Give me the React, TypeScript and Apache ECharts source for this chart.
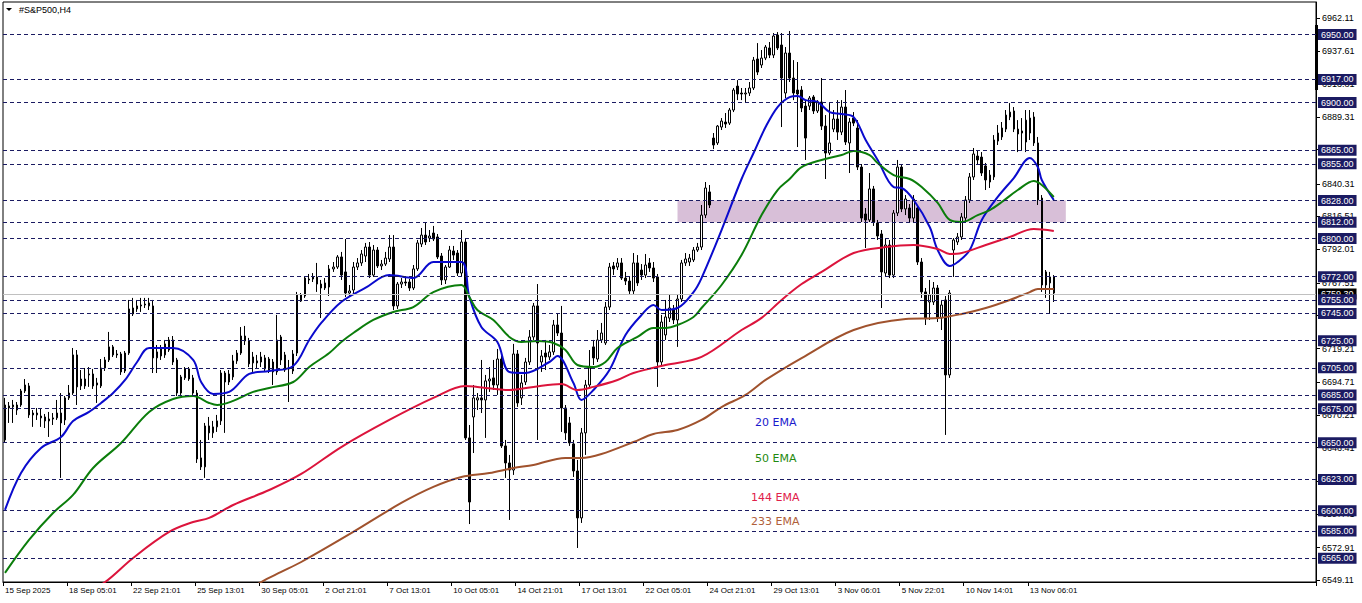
import React, { useEffect, useRef } from "react";
import * as echarts from "echarts";

const FONT = '"Liberation Sans", Arial, sans-serif';

// x-axis tick labels, one every 16 H4 bars
const timeLabels = [
  "15 Sep 2025", "18 Sep 05:01", "22 Sep 21:01", "25 Sep 13:01", "30 Sep 05:01",
  "2 Oct 21:01", "7 Oct 13:01", "10 Oct 05:01", "14 Oct 21:01", "17 Oct 13:01",
  "22 Oct 05:01", "24 Oct 21:01", "29 Oct 13:01", "3 Nov 06:01", "5 Nov 22:01",
  "10 Nov 14:01", "13 Nov 06:01",
];
const LABEL_STEP = 16;
const SLOT_COUNT = 328;

// right price scale labels
const yTicks = [
  6962.11, 6937.61, 6913.81, 6889.31, 6865.51, 6840.31, 6816.51, 6792.01, 6767.51,
  6743.71, 6719.21, 6694.71, 6670.21, 6646.41, 6621.91, 6597.41, 6572.91, 6549.11,
];
const Y_MIN = 6547.6;
const Y_MAX = 6973.9;

// horizontal levels
const levels = [
  6950, 6917, 6900, 6865, 6855, 6828, 6812, 6800, 6772, 6755, 6745, 6725, 6705,
  6685, 6675, 6650, 6623, 6600, 6585, 6565,
];
const lastPrice = 6759.3;
const zoneLow = 6812;
const zoneHigh = 6828;
const zoneFrom = 168;
const zoneTo = 265;

// candles: [open, close, low, high]
const candlesSep = [
  [6652.0, 6677.7, 6650.5, 6682.9], [6677.0, 6675.5, 6664.5, 6679.9], [6676.3, 6677.7, 6664.5, 6681.4],
  [6674.0, 6677.7, 6670.4, 6679.9], [6677.7, 6688.0, 6676.3, 6689.5], [6688.0, 6692.4, 6686.5, 6696.8],
  [6691.7, 6670.4, 6668.2, 6693.9], [6671.8, 6670.4, 6661.6, 6674.0], [6670.4, 6671.8, 6666.7, 6675.5],
  [6669.6, 6668.2, 6661.6, 6675.5], [6668.9, 6666.0, 6660.8, 6671.1], [6667.4, 6666.0, 6654.2, 6672.6],
  [6667.4, 6668.2, 6663.0, 6671.8], [6668.2, 6671.8, 6666.7, 6681.4], [6671.8, 6664.5, 6624.1, 6686.5],
  [6666.7, 6682.9, 6663.0, 6684.3], [6682.9, 6686.5, 6681.4, 6692.4], [6686.5, 6714.5, 6685.1, 6719.6],
  [6714.5, 6691.0, 6677.7, 6718.1], [6691.7, 6696.8, 6688.7, 6703.4], [6696.8, 6691.7, 6689.5, 6704.9],
  [6699.8, 6700.5, 6691.0, 6705.6], [6700.5, 6691.7, 6689.5, 6704.2], [6693.9, 6692.4, 6679.2, 6697.6],
  [6691.7, 6704.9, 6690.2, 6711.5], [6704.9, 6710.8, 6702.7, 6713.0], [6710.8, 6720.4, 6709.3, 6731.4],
  [6720.4, 6714.5, 6713.0, 6721.8], [6715.2, 6714.5, 6712.3, 6718.1], [6715.2, 6702.0, 6699.8, 6716.7],
  [6702.7, 6715.9, 6701.2, 6717.4], [6715.9, 6748.3, 6714.5, 6754.9], [6749.0, 6744.6, 6743.1, 6756.4],
  [6748.3, 6750.5, 6746.1, 6754.9], [6750.5, 6751.2, 6746.1, 6756.4], [6751.2, 6751.9, 6749.0, 6756.4],
  [6750.5, 6752.7, 6747.5, 6756.4], [6750.5, 6712.3, 6701.2, 6754.9], [6712.3, 6716.7, 6701.2, 6721.8],
  [6718.9, 6713.7, 6710.8, 6721.8], [6714.5, 6722.6, 6712.3, 6725.5], [6718.1, 6725.5, 6716.7, 6727.7],
  [6725.5, 6709.3, 6707.1, 6728.4], [6710.8, 6686.5, 6684.3, 6712.3], [6686.5, 6698.3, 6685.1, 6699.8],
  [6697.6, 6704.2, 6696.1, 6705.6], [6704.2, 6696.8, 6695.4, 6705.6], [6697.6, 6686.5, 6685.1, 6699.8],
  [6686.5, 6638.0, 6635.1, 6688.7], [6638.8, 6632.2, 6629.9, 6652.0], [6632.2, 6662.3, 6624.1, 6664.5],
  [6662.3, 6657.2, 6652.0, 6668.9], [6657.2, 6661.6, 6653.5, 6666.0], [6661.6, 6666.0, 6657.9, 6670.4],
  [6666.0, 6701.2, 6663.0, 6703.4], [6701.2, 6694.6, 6657.2, 6702.7], [6694.6, 6700.5, 6692.4, 6703.4],
  [6698.3, 6710.1, 6696.1, 6714.5], [6710.1, 6715.9, 6707.9, 6718.1], [6715.9, 6728.4, 6714.5, 6735.0],
  [6728.4, 6724.8, 6721.8, 6735.8], [6724.8, 6707.9, 6705.6, 6727.0], [6708.6, 6713.0, 6702.0, 6716.7],
  [6710.1, 6708.6, 6704.9, 6714.5], [6709.3, 6713.0, 6705.6, 6716.7], [6712.3, 6704.2, 6702.0, 6714.5],
  [6703.4, 6711.5, 6701.2, 6713.0], [6709.3, 6702.0, 6692.4, 6711.5], [6702.0, 6725.5, 6699.8, 6743.9],
  [6727.7, 6710.8, 6707.1, 6729.2], [6714.5, 6703.4, 6702.0, 6716.7], [6704.9, 6704.2, 6679.9, 6710.8],
  [6702.7, 6715.2, 6700.5, 6718.1], [6715.9, 6758.6, 6713.7, 6760.8], [6758.6, 6754.1, 6753.4, 6760.0],
  [6757.8, 6771.0, 6756.4, 6772.5], [6769.6, 6770.3, 6766.6, 6774.0], [6770.3, 6771.8, 6768.1, 6774.7],
  [6766.6, 6771.8, 6760.8, 6782.1], [6766.6, 6763.7, 6741.6, 6769.6], [6763.7, 6767.4, 6762.2, 6771.0],
  [6764.4, 6777.7, 6757.8, 6780.6], [6777.7, 6779.1, 6775.5, 6782.8], [6779.1, 6786.5, 6777.7, 6787.9],
  [6786.5, 6773.2, 6769.6, 6790.2], [6775.5, 6760.0, 6757.1, 6799.7], [6760.0, 6761.5, 6757.1, 6765.9],
  [6762.2, 6779.1, 6759.3, 6782.8],
];

const candlesOct = [
  [6779.1, 6782.1, 6776.9, 6785.7], [6782.1, 6788.7, 6779.9, 6791.6], [6787.2, 6793.8, 6782.8, 6796.8],
  [6793.8, 6773.2, 6771.0, 6797.5], [6773.2, 6791.6, 6771.8, 6795.3], [6791.6, 6779.9, 6778.4, 6793.8],
  [6779.9, 6781.3, 6776.9, 6784.3], [6781.3, 6785.7, 6779.9, 6790.2], [6785.0, 6793.8, 6782.8, 6802.6],
  [6793.8, 6750.5, 6747.5, 6802.6], [6750.5, 6766.6, 6748.3, 6768.1], [6766.6, 6768.1, 6763.7, 6771.0],
  [6768.1, 6767.4, 6765.2, 6772.5], [6768.1, 6763.7, 6761.5, 6770.3], [6763.7, 6777.7, 6762.2, 6780.6],
  [6777.7, 6796.8, 6776.2, 6799.0], [6796.0, 6802.6, 6793.8, 6807.8], [6802.6, 6797.5, 6795.3, 6812.2],
  [6800.4, 6801.9, 6797.5, 6806.3], [6804.1, 6799.7, 6798.2, 6809.3], [6801.2, 6786.5, 6785.0, 6803.4],
  [6787.2, 6769.6, 6765.9, 6789.4], [6769.6, 6779.1, 6766.6, 6780.6], [6779.1, 6791.6, 6778.4, 6794.6],
  [6790.9, 6787.9, 6784.3, 6794.6], [6789.4, 6774.7, 6772.5, 6791.6], [6774.7, 6797.5, 6772.5, 6806.3],
  [6797.5, 6653.5, 6652.0, 6800.4], [6653.5, 6606.4, 6590.2, 6663.0], [6668.9, 6682.9, 6642.4, 6692.4],
  [6681.4, 6682.9, 6674.0, 6686.5], [6682.9, 6681.4, 6671.8, 6710.8], [6681.4, 6695.4, 6653.5, 6699.8],
  [6695.4, 6696.8, 6687.3, 6705.6], [6697.6, 6692.4, 6688.7, 6710.8], [6692.4, 6711.5, 6685.1, 6718.9],
  [6711.5, 6647.6, 6646.1, 6713.7], [6647.6, 6635.1, 6624.1, 6652.0], [6635.1, 6629.9, 6593.2, 6641.0],
  [6629.9, 6715.2, 6626.3, 6722.6], [6715.2, 6679.2, 6676.3, 6718.1], [6682.9, 6693.9, 6677.7, 6699.8],
  [6694.6, 6709.3, 6692.4, 6712.3], [6709.3, 6727.7, 6707.1, 6732.8], [6727.7, 6750.5, 6725.5, 6752.7],
  [6750.5, 6723.3, 6652.0, 6766.6], [6709.3, 6713.7, 6702.0, 6718.1], [6715.9, 6713.0, 6703.4, 6725.5],
  [6713.0, 6716.7, 6710.8, 6721.8], [6716.7, 6736.5, 6714.5, 6740.2], [6736.5, 6730.6, 6728.4, 6745.3],
  [6730.6, 6675.5, 6657.9, 6750.5], [6675.5, 6657.2, 6652.0, 6677.7], [6664.5, 6649.8, 6647.6, 6668.9],
  [6649.1, 6629.2, 6624.8, 6652.0], [6629.2, 6594.7, 6572.6, 6637.3], [6594.7, 6657.2, 6591.0, 6660.8],
  [6657.2, 6692.4, 6641.0, 6696.1], [6692.4, 6704.9, 6690.2, 6718.1], [6720.4, 6712.3, 6707.1, 6725.5],
  [6711.5, 6725.5, 6709.3, 6732.8], [6725.5, 6730.6, 6723.3, 6738.0], [6723.3, 6749.7, 6721.8, 6753.4],
  [6749.7, 6779.1, 6747.5, 6782.1], [6779.9, 6777.7, 6773.2, 6782.8], [6779.1, 6782.1, 6776.9, 6785.7],
  [6782.1, 6771.0, 6769.6, 6785.7], [6771.0, 6768.8, 6765.9, 6775.5], [6768.8, 6761.5, 6759.3, 6771.8],
  [6761.5, 6782.1, 6759.3, 6789.4], [6782.1, 6767.4, 6765.2, 6787.9], [6776.9, 6773.2, 6769.6, 6781.3],
  [6773.2, 6780.6, 6771.0, 6788.7], [6782.1, 6778.4, 6775.5, 6785.7], [6778.4, 6771.0, 6768.1, 6782.8],
  [6771.8, 6709.3, 6691.0, 6774.0], [6709.3, 6738.7, 6707.1, 6743.9], [6729.2, 6742.4, 6725.5, 6754.9],
  [6741.6, 6749.0, 6738.7, 6758.6], [6747.5, 6740.2, 6737.2, 6751.2], [6740.2, 6755.6, 6720.4, 6758.6],
  [6755.6, 6782.1, 6753.4, 6784.3], [6782.1, 6785.0, 6779.9, 6789.4], [6782.8, 6785.7, 6779.9, 6788.7],
  [6784.3, 6791.6, 6782.8, 6793.8], [6791.6, 6793.8, 6790.2, 6796.8], [6793.8, 6817.3, 6791.6, 6824.7],
  [6817.3, 6837.2, 6815.1, 6841.6],
];

const candlesNov = [
  [6834.3, 6824.7, 6822.5, 6839.4], [6873.9, 6868.8, 6865.8, 6877.6], [6870.3, 6882.7, 6868.8, 6883.5],
  [6882.0, 6886.4, 6879.8, 6888.6], [6885.7, 6884.2, 6881.3, 6892.3], [6884.9, 6894.5, 6883.5, 6896.0],
  [6894.5, 6909.2, 6893.0, 6910.7], [6912.1, 6906.3, 6901.8, 6916.5], [6907.0, 6906.3, 6901.8, 6910.7],
  [6906.3, 6907.0, 6900.4, 6910.7], [6907.0, 6910.7, 6904.8, 6915.1], [6910.7, 6931.2, 6909.2, 6933.5],
  [6932.0, 6922.4, 6920.2, 6943.7], [6927.6, 6932.7, 6925.4, 6938.6], [6932.7, 6940.8, 6931.2, 6942.3],
  [6940.1, 6934.9, 6932.7, 6944.5], [6934.9, 6948.9, 6932.7, 6951.1], [6949.6, 6940.1, 6938.6, 6951.8],
  [6942.3, 6918.0, 6882.0, 6951.1], [6907.0, 6936.4, 6903.3, 6940.8], [6936.4, 6918.0, 6915.1, 6952.6],
  [6918.0, 6907.0, 6901.8, 6931.2], [6909.2, 6906.3, 6867.3, 6929.8], [6909.2, 6896.0, 6893.0, 6912.1],
  [6897.4, 6873.9, 6857.8, 6901.8], [6897.4, 6903.3, 6894.5, 6904.8], [6904.1, 6893.8, 6891.6, 6905.5],
  [6893.8, 6900.4, 6892.3, 6901.8], [6900.4, 6882.7, 6879.8, 6918.0], [6882.7, 6862.9, 6843.8, 6890.8],
  [6862.9, 6870.3, 6861.4, 6899.6], [6880.5, 6887.9, 6878.3, 6894.5], [6887.9, 6878.3, 6872.5, 6901.8],
  [6878.3, 6896.7, 6876.1, 6901.8], [6896.7, 6871.0, 6868.8, 6909.2], [6870.3, 6885.7, 6848.2, 6888.6],
  [6888.6, 6884.9, 6882.7, 6893.0], [6881.3, 6852.6, 6850.4, 6887.1], [6852.6, 6815.1, 6812.2, 6854.8],
  [6818.1, 6813.7, 6793.1, 6822.5], [6813.7, 6836.5, 6812.2, 6848.2], [6836.5, 6812.2, 6809.3, 6838.7],
  [6811.5, 6801.9, 6799.0, 6813.7], [6803.4, 6775.5, 6749.0, 6806.3], [6774.7, 6795.3, 6772.5, 6800.4],
  [6795.3, 6773.2, 6771.0, 6799.0], [6773.2, 6818.8, 6771.0, 6821.0], [6818.8, 6852.6, 6816.6, 6857.8],
  [6852.6, 6821.8, 6819.5, 6854.8], [6821.8, 6829.1, 6817.3, 6832.0], [6822.5, 6815.1, 6812.2, 6825.4],
  [6815.1, 6829.1, 6812.2, 6832.0], [6822.5, 6782.8, 6780.6, 6824.7], [6782.8, 6760.8, 6756.4, 6785.7],
  [6760.8, 6741.6, 6736.5, 6763.7], [6753.4, 6758.6, 6740.2, 6769.6], [6753.4, 6763.7, 6751.2, 6768.1],
  [6763.7, 6741.6, 6738.7, 6765.9], [6741.6, 6751.2, 6732.8, 6754.9], [6754.9, 6699.8, 6655.7, 6757.8],
  [6699.8, 6760.0, 6697.6, 6762.2], [6791.6, 6799.0, 6771.8, 6800.4], [6797.5, 6801.2, 6795.3, 6804.1],
  [6801.2, 6815.9, 6799.0, 6818.8], [6815.1, 6828.4, 6812.2, 6831.3], [6828.4, 6845.3, 6826.2, 6848.2],
  [6845.3, 6862.2, 6843.1, 6866.6], [6860.7, 6857.8, 6854.1, 6865.1], [6859.9, 6848.2, 6846.0, 6863.6],
  [6853.4, 6843.1, 6835.7, 6855.6], [6841.6, 6846.7, 6837.2, 6850.4], [6845.3, 6872.5, 6843.1, 6876.1],
  [6871.7, 6877.6, 6868.8, 6883.5], [6874.7, 6881.3, 6872.5, 6885.7], [6880.5, 6890.8, 6878.3, 6894.5],
  [6889.4, 6893.0, 6887.1, 6899.6], [6893.8, 6880.5, 6878.3, 6896.7], [6880.5, 6876.9, 6863.6, 6887.1],
  [6877.6, 6879.1, 6865.1, 6888.6], [6871.0, 6887.1, 6863.6, 6894.5], [6888.6, 6877.6, 6872.5, 6894.5],
  [6889.4, 6870.3, 6868.1, 6893.0], [6870.3, 6828.4, 6824.7, 6874.7], [6829.8, 6765.9, 6760.8, 6832.0],
  [6765.9, 6775.5, 6756.4, 6776.9], [6767.4, 6771.8, 6745.3, 6775.5], [6771.8, 6760.0, 6753.4, 6773.2],
];

// moving averages, sampled at bar indexes: [bar, value]
const ema20 = [
  [0, 6600.6], [4, 6627.8], [9, 6646.1], [14, 6654.2], [17, 6665.9], [21, 6672.6], [24, 6679.2],
  [27, 6686.5], [30, 6696.1], [33, 6709.3], [36, 6719.6], [42, 6719.6], [47, 6710.8], [49, 6694.6],
  [52, 6685.8], [56, 6687.3], [61, 6700.5], [66, 6702.7], [72, 6706.4], [76, 6725.5], [79, 6738.0],
  [84, 6753.4], [90, 6763.7], [96, 6773.2], [102, 6771.0], [107, 6782.8], [114, 6782.8], [116, 6757.1],
  [119, 6735.0], [123, 6724.0], [126, 6702.0], [130, 6701.3], [136, 6709.3], [138, 6713.7], [142, 6693.9],
  [144, 6681.4], [147, 6688.7], [151, 6703.4], [155, 6729.1], [159, 6743.8], [162, 6751.2], [164, 6747.5],
  [168, 6749.0], [172, 6760.7], [174, 6771.0], [179, 6806.3], [184, 6843.8], [187, 6862.9], [190, 6882.0],
  [193, 6896.7], [196, 6904.0], [198, 6904.8], [200, 6901.8], [203, 6900.4], [206, 6893.0], [209, 6891.6],
  [212, 6889.3], [215, 6872.4], [218, 6857.8], [222, 6837.9], [224, 6837.2], [227, 6828.4], [231, 6808.5],
  [233, 6791.6], [236, 6779.9], [238, 6782.8], [241, 6791.6], [244, 6813.7], [248, 6830.6], [252, 6844.5],
  [256, 6859.2], [258, 6852.6], [259, 6843.1], [262, 6828.4],
];
const ema50 = [
  [0, 6554.3], [6, 6578.5], [12, 6598.3], [17, 6611.6], [22, 6631.4], [29, 6649.8], [36, 6672.6],
  [42, 6682.1], [47, 6684.3], [51, 6679.2], [53, 6677.7], [57, 6680.7], [62, 6687.3], [66, 6690.2],
  [72, 6694.6], [76, 6705.6], [81, 6715.9], [84, 6724.0], [87, 6730.6], [92, 6740.2], [97, 6746.1],
  [102, 6749.7], [107, 6760.7], [114, 6765.9], [116, 6757.1], [118, 6747.5], [122, 6740.2], [126, 6727.7],
  [129, 6724.0], [133, 6724.7], [137, 6723.3], [140, 6718.1], [143, 6707.1], [147, 6705.6], [150, 6709.3],
  [153, 6719.6], [158, 6727.7], [162, 6734.3], [165, 6734.3], [168, 6736.5], [172, 6742.4], [174, 6749.0],
  [179, 6765.9], [184, 6787.9], [189, 6817.3], [193, 6835.7], [196, 6843.8], [199, 6852.6], [204, 6857.8],
  [209, 6861.4], [212, 6864.4], [216, 6861.4], [218, 6855.5], [222, 6846.7], [226, 6843.8], [229, 6837.9],
  [233, 6826.2], [236, 6813.7], [239, 6812.2], [243, 6817.3], [246, 6821.0], [249, 6826.9], [253, 6835.7],
  [257, 6842.3], [259, 6839.4], [262, 6830.6],
];
const ema144 = [
  [20, 6540.0], [25, 6547.6], [32, 6565.3], [41, 6584.4], [47, 6591.7], [51, 6594.7], [57, 6604.2],
  [66, 6615.2], [74, 6627.0], [84, 6646.8], [96, 6666.7], [107, 6682.9], [115, 6691.7], [118, 6691.0],
  [126, 6688.7], [132, 6691.0], [139, 6693.1], [143, 6688.7], [147, 6691.0], [153, 6696.1], [157, 6701.2],
  [165, 6707.1], [174, 6713.0], [184, 6732.8], [189, 6741.7], [194, 6754.9], [199, 6766.6], [204, 6775.5],
  [212, 6789.4], [220, 6793.8], [227, 6795.3], [233, 6792.3], [236, 6788.7], [239, 6789.4], [245, 6795.3],
  [251, 6801.2], [257, 6807.0], [262, 6805.6],
];
const ema233 = [
  [60, 6540.0], [64, 6547.6], [69, 6555.0], [74, 6562.3], [87, 6584.4], [99, 6605.7], [107, 6617.5],
  [114, 6624.8], [121, 6627.7], [127, 6631.4], [132, 6633.6], [140, 6638.8], [144, 6638.8], [149, 6641.7],
  [157, 6650.5], [162, 6656.4], [168, 6659.3], [174, 6666.7], [179, 6676.2], [185, 6685.1], [190, 6696.1],
  [199, 6712.2], [212, 6732.8], [225, 6740.9], [233, 6741.6], [239, 6744.6], [245, 6749.0], [251, 6754.9],
  [256, 6760.7], [258, 6763.0], [262, 6763.0],
];

const emaLegend = [
  { text: "20 EMA", color: "#1a1acd", x: 755, y: 422 },
  { text: "50 EMA", color: "#1f8a10", x: 755, y: 458 },
  { text: "144 EMA", color: "#e0204a", x: 751, y: 497 },
  { text: "233 EMA", color: "#b0603a", x: 751, y: 521 },
];

export default function App() {
  const ref = useRef<HTMLDivElement>(null);

  useEffect(() => {
    if (!ref.current) return;
    const chart = echarts.init(ref.current, undefined, { renderer: "svg" });
    const candles = [...candlesSep, ...candlesOct, ...candlesNov];
    const categories = Array.from({ length: SLOT_COUNT }, (_, i) => String(i));
    const showTick = (i: number) => i % LABEL_STEP === 0 && i / LABEL_STEP < timeLabels.length;

    const emaSeries = (name: string, data: number[][], color: string) => ({
      name,
      type: "line",
      data,
      smooth: 0.35,
      symbol: "none",
      clip: true,
      z: 4,
      lineStyle: { color, width: 2 },
      silent: true,
    });

    const levelLabel = {
      show: true,
      position: "end",
      distance: 2,
      formatter: (p: any) => Number(p.value).toFixed(2),
      color: "#ffffff",
      backgroundColor: "#1b1b62",
      padding: [1, 3, 0, 3],
      fontSize: 9,
      lineHeight: 10,
      fontFamily: FONT,
    };

    chart.setOption({
      animation: false,
      backgroundColor: "#ffffff",
      grid: {
        left: 3,
        top: 2,
        width: 1313,
        height: 580,
        show: true,
        borderColor: "#000000",
        borderWidth: 1,
        backgroundColor: "#ffffff",
      },
      xAxis: {
        type: "category",
        data: categories,
        boundaryGap: true,
        axisLine: { show: true, lineStyle: { color: "#000000", width: 1 } },
        axisTick: { show: true, interval: (i: number) => showTick(i), length: 4, lineStyle: { color: "#000000" } },
        axisLabel: {
          interval: (i: number) => showTick(i),
          formatter: (_v: string, i: number) => timeLabels[i / LABEL_STEP] ?? "",
          align: "left",
          margin: 4,
          fontSize: 8,
          color: "#000000",
          fontFamily: FONT,
        },
        splitLine: { show: false },
      },
      yAxis: {
        type: "value",
        position: "right",
        min: Y_MIN,
        max: Y_MAX,
        axisLine: { show: true, lineStyle: { color: "#000000" } },
        axisTick: { show: true, length: 4, customValues: yTicks, lineStyle: { color: "#000000" } },
        axisLabel: {
          customValues: yTicks,
          formatter: (v: number) => v.toFixed(2),
          margin: 6,
          fontSize: 9,
          color: "#000000",
          fontFamily: FONT,
        },
        splitLine: { show: false },
      },
      series: [
        {
          name: "zone",
          type: "line",
          data: [],
          z: 1,
          silent: true,
          markArea: {
            silent: true,
            itemStyle: { color: "#d8bfd8" },
            data: [[{ xAxis: zoneFrom, yAxis: zoneLow }, { xAxis: zoneTo, yAxis: zoneHigh }]],
          },
        },
        {
          name: "levels",
          type: "line",
          data: [],
          z: 2,
          silent: true,
          clip: false,
          markLine: {
            silent: true,
            animation: false,
            symbol: ["none", "none"],
            lineStyle: { color: "#1b1b62", type: [4, 3], width: 1 },
            label: levelLabel,
            data: [
              {
                yAxis: lastPrice,
                lineStyle: { color: "#c0c0c0", type: "solid", width: 1 },
                label: { ...levelLabel, backgroundColor: "#000000" },
              },
              ...levels.map((v) => ({ yAxis: v })),
            ],
          },
        },
        {
          name: "#S&P500,H4",
          type: "candlestick",
          data: candles,
          barWidth: 2,
          z: 3,
          silent: true,
          itemStyle: {
            color: "#ffffff",
            color0: "#000000",
            borderColor: "#000000",
            borderColor0: "#000000",
            borderWidth: 1,
          },
        },
        emaSeries("20 EMA", ema20, "#0a0acd"),
        emaSeries("50 EMA", ema50, "#0b7d0b"),
        emaSeries("144 EMA", ema144, "#dc143c"),
        emaSeries("233 EMA", ema233, "#a0522d"),
      ],
      graphic: [
        { type: "polygon", shape: { points: [[6, 8], [12, 8], [9, 11]] }, style: { fill: "#000000" }, silent: true },
        {
          type: "text",
          x: 19,
          y: 10,
          style: { text: "#S&P500,H4", fill: "#000000", font: `9px ${FONT}`, verticalAlign: "middle" },
          silent: true,
        },
        { type: "rect", shape: { x: 1315, y: 25, width: 3, height: 65 }, style: { fill: "#000000" }, silent: true },
        ...emaLegend.map((e) => ({
          type: "text",
          x: e.x,
          y: e.y,
          style: { text: e.text, fill: e.color, font: `11px "DejaVu Sans", sans-serif`, verticalAlign: "middle" },
          silent: true,
        })),
      ],
    });

    return () => chart.dispose();
  }, []);

  return (
    <div
      ref={ref}
      style={{ position: "fixed", left: 0, top: 0, width: 1362, height: 603, background: "#ffffff" }}
    />
  );
}
